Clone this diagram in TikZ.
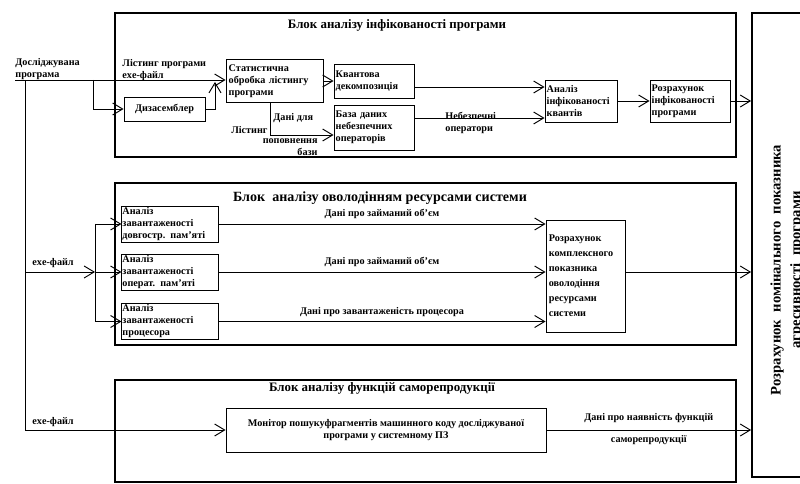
\documentclass[tikz,border=0pt]{standalone}
\usepackage{fontspec}
\setmainfont{Liberation Serif}
\usetikzlibrary{arrows.meta}

\begin{document}
\begin{tikzpicture}[x=0.03cm,y=-0.03cm,
    txt/.style={font=\bfseries\fontsize{8.7}{10.2}\selectfont, inner sep=1pt},
    blk/.style={txt, draw, line width=0.8pt, align=left},
    frame/.style={draw, line width=2.5pt},
    ttl/.style={font=\bfseries\fontsize{11}{13}\selectfont, inner sep=0pt},
    arr/.style={-{Straight Barb[length=3mm,width=3.6mm]}, line width=0.8pt},
    ln/.style={line width=0.8pt}]
    \useasboundingbox (0,0) rectangle (800,484);

    % block frames
    \draw[frame] (115,13) rectangle (736,157);
    \draw[frame] (115,183) rectangle (736,345);
    \draw[frame] (115,380) rectangle (736,482);
    \node[ttl] (t1) at (397,25) {Блок аналізу інфікованості програми};
    \node[ttl, font=\bfseries\fontsize{12}{14}\selectfont] (t2) at (380,198) {Блок~ аналізу оволодінням ресурсами системи};
    \node[ttl] (t3) at (382,388) {Блок аналізу функцій саморепродукції};

    % final estimate
    \node[draw, line width=1.5pt, minimum width=2.94cm, minimum height=13.92cm] (big) at (801,245) {};
    \node[rotate=90, align=center, inner sep=0pt, font=\bfseries\fontsize{12.5}{17}\selectfont] (aggr) at (787,270)
        {Розрахунок~ номінального~ показника\\агресивності~ програми};

    % infection block
    \node[blk, align=center, minimum width=2.43cm, minimum height=0.72cm] (disasm) at (164.5,109) {Дизасемблер};
    \node[blk, text width=2.75cm, minimum width=2.91cm, minimum height=1.29cm] (stat) at (274.5,81) {Статистична\\обробка лістингу\\програми};
    \node[blk, text width=2.3cm, minimum width=2.4cm, minimum height=1.02cm] (quant) at (374,81) {Квантова\\декомпозиція};
    \node[blk, text width=2.3cm, minimum width=2.4cm, minimum height=1.35cm] (db) at (374,127.5) {База даних\\небезпечних\\операторів};
    \node[blk, text width=2.06cm, minimum width=2.16cm, minimum height=1.26cm] (anq) at (581,101) {Аналіз\\інфікованості\\квантів};
    \node[blk, text width=2.3cm, minimum width=2.4cm, minimum height=1.26cm] (calcI) at (690,101) {Розрахунок\\інфікованості\\програми};

    % resources block
    \node[blk, inner sep=0.5pt, text width=2.85cm, minimum width=2.88cm, minimum height=1.08cm] (boxA) at (170,224) {Аналіз\\завантаженості\\довгостр. пам’яті};
    \node[blk, inner sep=0.5pt, text width=2.85cm, minimum width=2.88cm, minimum height=1.08cm] (boxB) at (170,272) {Аналіз\\завантаженості\\операт. пам’яті};
    \node[blk, inner sep=0.5pt, text width=2.85cm, minimum width=2.88cm, minimum height=1.08cm] (boxC) at (170,321.5) {Аналіз\\завантаженості\\процесора};
    \node[blk, font=\bfseries\fontsize{8.7}{12.75}\selectfont, text width=2.2cm, minimum width=2.37cm, minimum height=3.36cm] (calc2) at (585.5,276)
        {Розрахунок\\комплексного\\показника\\оволодіння\\ресурсами\\системи};

    % self-reproduction block
    \node[blk, align=center, minimum width=9.6cm, minimum height=1.32cm] (mon) at (386,430)
        {Монітор пошукуфрагментів машинного коду досліджуваної\\програми у системному ПЗ};

    % input lines
    \coordinate (src) at (15,80);
    \coordinate (trunk) at (25,80);
    \coordinate (tap) at (93,80);
    \coordinate (mrg) at (215,82);
    \coordinate (fan) at (95,272);
    \coordinate (lst) at (270,135);

    \node[txt, align=left, anchor=south west] (srclbl) at (14,81) {Досліджувана\\програма};
    \node[txt, align=left, anchor=south west] (lstlbl) at (121,82) {Лістинг програми\\exe-файл};
    \node[txt, anchor=south west] (exe2) at (31,269) {exe-файл};
    \node[txt, anchor=south west] (exe3) at (31,428) {exe-файл};

    \draw[arr] (src) -- (stat.west |- src);
    \draw[ln] (trunk) -- (trunk |- mon.west);
    \draw[arr] (trunk |- mon.west) -- (mon.west);
    \draw[arr] (trunk |- fan) -- (fan);
    \draw[ln] (fan |- boxA.west) -- (fan |- boxC.west);
    \foreach \b in {boxA,boxB,boxC}
        \draw[arr] (fan |- \b.west) -- (\b.west);

    \draw[arr] (tap) |- (disasm.west);
    \draw[arr] (disasm.east) -| (mrg);
    \draw[arr] (stat.east) -- (quant.west);

    % listing to the database
    \draw[ln] (stat.south -| lst) -- (lst);
    \draw[arr] (lst) -- (lst -| db.west);
    \node[txt, anchor=west] (dlbl) at (272,118) {Дані для};
    \node[txt, anchor=east] (llbl) at (269,130) {Лістинг};
    \node[txt, align=right, anchor=north east] (plbl) at (319,137) {поповнення\\бази};

    \draw[arr] (quant.east |- 0,87) -- (anq.west |- 0,87);
    \draw[arr] (db.east |- 0,118) -- (anq.west |- 0,118);
    \node[txt, align=left, anchor=north west] (nlbl) at (444,111) {Небезпечні\\оператори};
    \draw[arr] (anq) -- (calcI);
    \draw[arr] (calcI.east) -- (calcI.east -| big.west);

    \draw[arr] (boxA.east) -- (boxA.east -| calc2.west) node[txt, midway, above=3pt] {Дані про займаний об’єм};
    \draw[arr] (boxB.east) -- (boxB.east -| calc2.west) node[txt, midway, above=3pt] {Дані про займаний об’єм};
    \draw[arr] (boxC.east) -- (boxC.east -| calc2.west) node[txt, midway, above=3pt] {Дані про завантаженість процесора};
    \draw[arr] (calc2.east |- boxB) -- (big.west |- boxB);

    \draw[arr] (mon.east) -- (mon.east -| big.west)
        node[txt, midway, above=5pt] {Дані про наявність функцій}
        node[txt, midway, below=3pt] {саморепродукції};
\end{tikzpicture}
\end{document}
